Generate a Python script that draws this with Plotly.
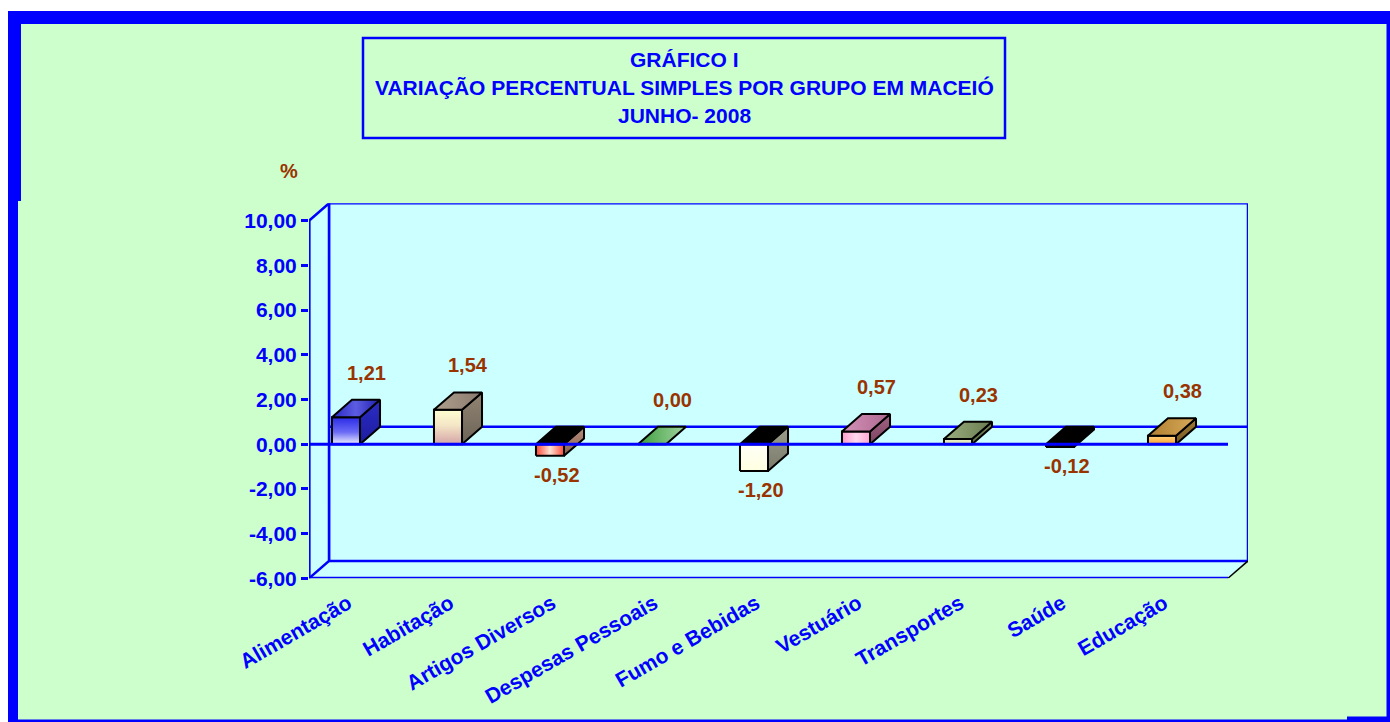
import plotly.graph_objects as go

# ---------------- data ----------------
categories = ["Alimentação", "Habitação", "Artigos Diversos", "Despesas Pessoais",
              "Fumo e Bebidas", "Vestuário", "Transportes", "Saúde", "Educação"]
values = [1.21, 1.54, -0.52, 0.00, -1.20, 0.57, 0.23, -0.12, 0.38]
y_ticks = [-6, -4, -2, 0, 2, 4, 6, 8, 10]
title_lines = ["GRÁFICO I", "VARIAÇÃO PERCENTUAL SIMPLES POR GRUPO EM MACEIÓ", "JUNHO- 2008"]
unit_label = "%"

# ---------------- styles (gradient colorscales per face) ----------------
front_styles = [
    ("vertical", [[0, "#EEEEFF"], [0.45, "#6A6AF6"], [1, "#2A2AE6"]]),
    ("vertical", [[0, "#D4A4A6"], [0.55, "#F4E6C6"], [1, "#FFFFD2"]]),
    ("horizontal", [[0, "#FF4434"], [0.5, "#FFE2D4"], [1, "#FF4838"]]),
    ("vertical", [[0, "#66BB66"], [1, "#66BB66"]]),
    ("vertical", [[0, "#FFFFE0"], [1, "#FFFFF8"]]),
    ("horizontal", [[0, "#FF9ACC"], [0.5, "#FFD8EC"], [1, "#FFA6D2"]]),
    ("vertical", [[0, "#D8E0AC"], [1, "#EEF2CC"]]),
    ("vertical", [[0, "#000000"], [1, "#000000"]]),
    ("vertical", [[0, "#FFA22C"], [1, "#FFD484"]]),
]
top_styles = [
    ("horizontal", [[0, "#2626C4"], [0.5, "#5C5CE2"], [1, "#1E1EB0"]]),
    ("horizontal", [[0, "#B0A08E"], [1, "#8A7A6E"]]),
    ("horizontal", [[0, "#000000"], [1, "#000000"]]),
    ("horizontal", [[0, "#3C9E3C"], [1, "#A2D4A2"]]),
    ("horizontal", [[0, "#000000"], [1, "#000000"]]),
    ("horizontal", [[0, "#D492B8"], [1, "#AE6890"]]),
    ("horizontal", [[0, "#9AAE7E"], [1, "#687C50"]]),
    ("horizontal", [[0, "#000000"], [1, "#000000"]]),
    ("horizontal", [[0, "#B07E30"], [1, "#D8AA5A"]]),
]
side_styles = [
    ("vertical", [[0, "#1C1CA0"], [1, "#2C2CC4"]]),
    ("vertical", [[0, "#6C6458"], [1, "#928472"]]),
    ("vertical", [[0, "#8A6050"], [1, "#B68E7E"]]),
    ("vertical", [[0, "#5A9A5A"], [1, "#5A9A5A"]]),
    ("vertical", [[0, "#7A7A6C"], [1, "#9C9C8A"]]),
    ("vertical", [[0, "#7C4462"], [1, "#A26282"]]),
    ("vertical", [[0, "#5E6E44"], [1, "#76865A"]]),
    ("vertical", [[0, "#111111"], [1, "#222222"]]),
    ("vertical", [[0, "#7A5A20"], [1, "#9E7A36"]]),
]

BLUE = "#0000FF"
BROWN = "#993300"
GREEN_BG = "#CCFFCC"
WALL = "#CCFFFF"
FONT = "Liberation Sans, Arial, sans-serif"

W, H = 1390, 722
def fx(p):
    return p / W
def fy(p):
    return 1 - p / H

# axis geometry (layout constants)
XR0 = -0.3627          # left of front plane
XPX = 102.0            # px per category
X1 = XR0 + 919 / XPX   # right of front plane
D = 20 / XPX           # depth offset in x units
YMIN, YMAX = -6, 10
E = 17.4 / 22.35       # depth offset in y units
BAR_W = 0.275

fig = go.Figure()

def face(xs, ys, style):
    kind, scale = style
    return go.Scatter(
        x=xs, y=ys, mode="lines", fill="toself", fillcolor=scale[0][1],
        fillgradient=dict(type=kind, colorscale=scale),
        line=dict(color="black", width=2), hoverinfo="skip", showlegend=False)

# faces of each 3D column, derived from values
for i, v in enumerate(values):
    top = max(v, 0)
    bot = min(v, 0)
    xl, xr = i - BAR_W / 2, i + BAR_W / 2
    if v != 0:
        fig.add_trace(face([xl, xr, xr, xl, xl], [bot, bot, top, top, bot], front_styles[i]))
        fig.add_trace(face([xr, xr, xr + D, xr + D, xr], [bot, top, top + E, bot + E, bot],
                           side_styles[i]))
    fig.add_trace(face([xl, xr, xr + D, xl + D, xl], [top, top, top + E, top + E, top],
                       top_styles[i]))

# value labels
annotations = []
for i, v in enumerate(values):
    txt = f"{v:.2f}".replace(".", ",")
    if v >= 0:
        annotations.append(dict(x=i + D / 2, y=v + E, xref="x", yref="y", text=txt,
                                showarrow=False, xshift=10, yshift=27,
                                font=dict(family=FONT, size=20, color=BROWN, weight="bold")))
    else:
        annotations.append(dict(x=i, y=v, xref="x", yref="y", text=txt,
                                showarrow=False, xshift=7, yshift=-19,
                                font=dict(family=FONT, size=20, color=BROWN, weight="bold")))

# title lines
for line, ypx in zip(title_lines, [60, 88, 115]):
    annotations.append(dict(x=fx(684), y=fy(ypx), xref="paper", yref="paper", text=line,
                            showarrow=False, xanchor="center", yanchor="middle",
                            font=dict(family=FONT, size=21, color=BLUE, weight="bold")))
annotations.append(dict(x=fx(289), y=fy(171), xref="paper", yref="paper", text=unit_label,
                        showarrow=False, xanchor="center", yanchor="middle",
                        font=dict(family=FONT, size=20, color=BROWN, weight="bold")))

shapes = [
    dict(type="rect", xref="paper", yref="paper", x0=fx(8), x1=fx(1390), y0=fy(11), y1=fy(722),
         fillcolor=BLUE, line=dict(width=0), layer="below"),
    dict(type="rect", xref="paper", yref="paper", x0=fx(18), x1=fx(1386.5), y0=fy(24), y1=fy(719.5),
         fillcolor=GREEN_BG, line=dict(width=0), layer="below"),
    dict(type="rect", xref="paper", yref="paper", x0=fx(8), x1=fx(21), y0=fy(11), y1=fy(201),
         fillcolor=BLUE, line=dict(width=0), layer="below"),
    dict(type="rect", xref="paper", yref="paper", x0=fx(1347), x1=fx(1390), y0=fy(716.5), y1=fy(722),
         fillcolor=BLUE, line=dict(width=0), layer="below"),
    dict(type="rect", xref="paper", yref="paper", x0=fx(363), x1=fx(1005), y0=fy(38), y1=fy(138),
         fillcolor="rgba(0,0,0,0)", line=dict(color=BLUE, width=2.5), layer="below"),
    dict(type="path", xref="x", yref="y",
         path=f"M{XR0},{YMIN} L{X1},{YMIN} L{X1 + D},{YMIN + E} L{XR0 + D},{YMIN + E} Z",
         fillcolor=WALL, line=dict(width=0), layer="below"),
    dict(type="rect", xref="x", yref="y", x0=XR0 + D, x1=X1 + D, y0=YMIN + E, y1=YMAX + E,
         fillcolor=WALL, line=dict(color=BLUE, width=2.5), layer="below"),
    dict(type="path", xref="x", yref="y",
         path=f"M{XR0},{YMIN} L{XR0 + D},{YMIN + E} L{XR0 + D},{YMAX + E} L{XR0},{YMAX} Z",
         fillcolor=WALL, line=dict(color=BLUE, width=2.5), layer="below"),
    dict(type="line", xref="x", yref="y", x0=XR0, x1=X1, y0=YMIN, y1=YMIN,
         line=dict(color=BLUE, width=3), layer="below"),
    dict(type="line", xref="x", yref="y", x0=X1, x1=X1 + D, y0=YMIN, y1=YMIN + E,
         line=dict(color="black", width=1.5), layer="below"),
    dict(type="line", xref="x", yref="y", x0=XR0 + D, x1=X1 + D, y0=E, y1=E,
         line=dict(color=BLUE, width=2.5), layer="below"),
    dict(type="line", xref="x", yref="y", x0=XR0, x1=XR0, y0=YMIN, y1=YMAX,
         line=dict(color=BLUE, width=3), layer="below"),
    dict(type="line", xref="x", yref="y", x0=XR0, x1=X1, y0=0, y1=0,
         line=dict(color=BLUE, width=3), layer="above"),
]

fig.update_layout(
    width=W, height=H, autosize=False,
    margin=dict(l=0, r=0, t=0, b=0, autoexpand=False),
    paper_bgcolor="white", plot_bgcolor="rgba(0,0,0,0)",
    showlegend=False,
    shapes=shapes, annotations=annotations,
    xaxis=dict(domain=[fx(309), fx(1248)], range=[XR0, X1 + D], automargin=False,
               tickvals=[i + 0.02 for i in range(len(categories))], ticktext=categories,
               tickangle=-30, ticks="", ticklabelstandoff=8,
               showline=False, showgrid=False, zeroline=False,
               tickfont=dict(family=FONT, size=21, color=BLUE, weight="bold"),
               fixedrange=True),
    yaxis=dict(domain=[fy(578.3), fy(203.3)], range=[YMIN, YMAX + E], automargin=False,
               tickvals=y_ticks, ticktext=[f"{t:.2f}".replace(".", ",") for t in y_ticks],
               ticks="outside", ticklen=7, tickwidth=3, tickcolor=BLUE,
               showline=False, showgrid=False, zeroline=False,
               tickfont=dict(family=FONT, size=21, color=BLUE, weight="bold"),
               fixedrange=True),
)

fig.write_html("out.html", config={"displayModeBar": False},
               post_script="document.body.style.margin='0';document.body.style.overflow='hidden';")
